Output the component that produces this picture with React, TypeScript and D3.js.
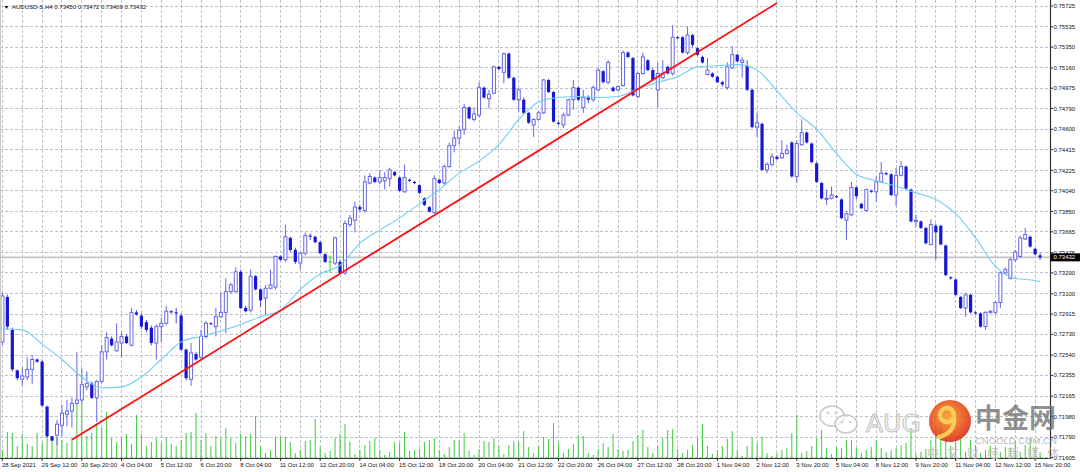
import React from "react";
import * as d3 from "d3";

// ---------- data (AUDUSD-S, H4) ----------
const symbolHeader = "AUDUSD-S,H4  0.73450 0.73472 0.73409 0.73432";

const timeLabels = [
  "28 Sep 2021", "29 Sep 12:00", "30 Sep 20:00", "4 Oct 04:00", "5 Oct 12:00", "6 Oct 20:00",
  "8 Oct 04:00", "11 Oct 12:00", "12 Oct 20:00", "14 Oct 04:00", "15 Oct 12:00", "18 Oct 20:00",
  "20 Oct 04:00", "21 Oct 12:00", "22 Oct 20:00", "26 Oct 04:00", "27 Oct 12:00", "28 Oct 20:00",
  "1 Nov 04:00", "2 Nov 12:00", "3 Nov 20:00", "5 Nov 04:00", "8 Nov 12:00", "9 Nov 20:00",
  "11 Nov 04:00", "12 Nov 12:00", "15 Nov 20:00",
];

const priceTicks = [
  0.75725, 0.75535, 0.7535, 0.7516, 0.74975, 0.7479, 0.746, 0.74415, 0.74225, 0.7404, 0.7385,
  0.73665, 0.73475, 0.7329, 0.731, 0.72915, 0.7273, 0.7254, 0.72355, 0.72165, 0.7198, 0.7179, 0.71605,
];

const open = [
  0.7266, 0.7307, 0.7277, 0.7240, 0.7232, 0.7234, 0.7241, 0.7250, 0.7248, 0.7207,
  0.7180, 0.7181, 0.7190, 0.7200, 0.7203, 0.7210, 0.7213, 0.7225, 0.7228, 0.7215,
  0.7230, 0.7257, 0.7269, 0.7258, 0.7265, 0.7271, 0.7263, 0.7293, 0.7290, 0.7284,
  0.7279, 0.7265, 0.7280, 0.7283, 0.7294, 0.7293, 0.7290, 0.7259, 0.7232, 0.7255,
  0.7252, 0.7271, 0.7283, 0.7280, 0.7289, 0.7293, 0.7312, 0.7312, 0.7330, 0.7297,
  0.7295, 0.7326, 0.7314, 0.7306, 0.7315, 0.7316, 0.7344, 0.7341, 0.7361, 0.7350,
  0.7338, 0.7347, 0.7363, 0.7362, 0.7357, 0.7346, 0.7339, 0.7338, 0.7339, 0.7329,
  0.7373, 0.7377, 0.7389, 0.7386, 0.7411, 0.7416, 0.7412, 0.7413, 0.7415, 0.7421,
  0.7416, 0.7403, 0.7414, 0.7412, 0.7409, 0.7397, 0.7389, 0.7384, 0.7414, 0.7411,
  0.7426, 0.7445, 0.7452, 0.7460, 0.7480, 0.7469, 0.7473, 0.7498, 0.7488, 0.7493,
  0.7517, 0.7512, 0.7529, 0.7507, 0.7487, 0.7487, 0.7475, 0.7464, 0.7469, 0.7475,
  0.7505, 0.7494, 0.7466, 0.7464, 0.7473, 0.7487, 0.7498, 0.7480, 0.7489, 0.7487,
  0.7496, 0.7513, 0.7503, 0.7498, 0.7496, 0.7500, 0.7530, 0.7525, 0.7490, 0.7511,
  0.7523, 0.7514, 0.7496, 0.7507, 0.7517, 0.7511, 0.7544, 0.7544, 0.7530, 0.7546,
  0.7534, 0.7526, 0.7510, 0.7511, 0.7508, 0.7503, 0.7498, 0.7516, 0.7528, 0.7521,
  0.7518, 0.7496, 0.7462, 0.7465, 0.7423, 0.7428, 0.7435, 0.7434, 0.7438, 0.7448,
  0.7417, 0.7446, 0.7457, 0.7447, 0.7429, 0.7411, 0.7396, 0.7397, 0.7399, 0.7396,
  0.7377, 0.7382, 0.7407, 0.7392, 0.7386, 0.7404, 0.7403, 0.7412, 0.7420, 0.7419,
  0.7400, 0.7418, 0.7426, 0.7405, 0.7376, 0.7376, 0.7370, 0.7355, 0.7372, 0.7372,
  0.7354, 0.7325, 0.7323, 0.7307, 0.7297, 0.7309, 0.7293, 0.7292, 0.7280, 0.7293,
  0.7293, 0.7302, 0.7329, 0.7324, 0.7341, 0.7344, 0.7360, 0.7362, 0.7351, 0.7345,
];

const high = [
  0.7311, 0.7309, 0.7279, 0.7241, 0.7243, 0.7252, 0.7254, 0.7251, 0.7250, 0.7208,
  0.7180, 0.7195, 0.7209, 0.7213, 0.7215, 0.7257, 0.7242, 0.7239, 0.7230, 0.7231,
  0.7263, 0.7275, 0.7271, 0.7283, 0.7275, 0.7273, 0.7297, 0.7295, 0.7292, 0.7286,
  0.7281, 0.7282, 0.7288, 0.7299, 0.7295, 0.7297, 0.7292, 0.7260, 0.7265, 0.7257,
  0.7277, 0.7285, 0.7284, 0.7297, 0.7311, 0.7324, 0.7320, 0.7334, 0.7332, 0.7299,
  0.7332, 0.7327, 0.7315, 0.7318, 0.7332, 0.7345, 0.7345, 0.7373, 0.7362, 0.7352,
  0.7348, 0.7366, 0.7365, 0.7363, 0.7358, 0.7347, 0.7345, 0.7362, 0.7341, 0.7377,
  0.7382, 0.7394, 0.7391, 0.7418, 0.7420, 0.7417, 0.7423, 0.7421, 0.7425, 0.7422,
  0.7417, 0.7428, 0.7415, 0.7413, 0.7410, 0.7398, 0.7390, 0.7418, 0.7415, 0.7428,
  0.7448, 0.7459, 0.7463, 0.7483, 0.7481, 0.7480, 0.7503, 0.7499, 0.7496, 0.7518,
  0.7518, 0.7530, 0.7530, 0.7508, 0.7498, 0.7489, 0.7476, 0.7470, 0.7477, 0.7506,
  0.7506, 0.7495, 0.7467, 0.7475, 0.7488, 0.7505, 0.7499, 0.7496, 0.7491, 0.7500,
  0.7516, 0.7514, 0.7523, 0.7499, 0.7500, 0.7532, 0.7531, 0.7526, 0.7512, 0.7530,
  0.7524, 0.7516, 0.7521, 0.7523, 0.7518, 0.7555, 0.7545, 0.7545, 0.7554, 0.7547,
  0.7535, 0.7527, 0.7525, 0.7512, 0.7509, 0.7504, 0.7521, 0.7536, 0.7529, 0.7526,
  0.7523, 0.7497, 0.7475, 0.7466, 0.7430, 0.7438, 0.7436, 0.7450, 0.7446, 0.7449,
  0.7450, 0.7469, 0.7458, 0.7448, 0.7430, 0.7412, 0.7405, 0.7408, 0.7400, 0.7397,
  0.7385, 0.7412, 0.7408, 0.7393, 0.7406, 0.7405, 0.7417, 0.7430, 0.7421, 0.7420,
  0.7425, 0.7431, 0.7427, 0.7406, 0.7382, 0.7377, 0.7371, 0.7378, 0.7374, 0.7373,
  0.7355, 0.7326, 0.7324, 0.7308, 0.7311, 0.7310, 0.7294, 0.7293, 0.7294, 0.7295,
  0.7303, 0.7330, 0.7334, 0.7343, 0.7350, 0.7363, 0.7370, 0.7363, 0.7352, 0.73472,
];

const low = [
  0.7263, 0.7277, 0.7239, 0.7231, 0.7226, 0.7231, 0.7228, 0.7247, 0.7207, 0.7179,
  0.7175, 0.7172, 0.7180, 0.7189, 0.7188, 0.7209, 0.7210, 0.7222, 0.7214, 0.7193,
  0.7228, 0.7250, 0.7262, 0.7257, 0.7252, 0.7264, 0.7262, 0.7290, 0.7278, 0.7275,
  0.7263, 0.7250, 0.7266, 0.7281, 0.7292, 0.7283, 0.7258, 0.7231, 0.7226, 0.7249,
  0.7250, 0.7269, 0.7282, 0.7271, 0.7288, 0.7274, 0.7310, 0.7311, 0.7296, 0.7293,
  0.7293, 0.7313, 0.7298, 0.7291, 0.7314, 0.7314, 0.7340, 0.7339, 0.7348, 0.7337,
  0.7332, 0.7345, 0.7359, 0.7356, 0.7346, 0.7338, 0.7329, 0.7336, 0.7328, 0.7327,
  0.7371, 0.7366, 0.7385, 0.7384, 0.7410, 0.7411, 0.7410, 0.7405, 0.7408, 0.7417,
  0.7403, 0.7402, 0.7412, 0.7410, 0.7401, 0.7390, 0.7384, 0.7383, 0.7410, 0.7409,
  0.7425, 0.7439, 0.7446, 0.7455, 0.7469, 0.7467, 0.7471, 0.7488, 0.7479, 0.7492,
  0.7514, 0.7502, 0.7506, 0.7486, 0.7476, 0.7474, 0.7465, 0.7453, 0.7468, 0.7474,
  0.7493, 0.7466, 0.7464, 0.7461, 0.7472, 0.7478, 0.7486, 0.7475, 0.7484, 0.7485,
  0.7495, 0.7502, 0.7501, 0.7494, 0.7495, 0.7499, 0.7525, 0.7490, 0.7488, 0.7510,
  0.7513, 0.7504, 0.7480, 0.7506, 0.7510, 0.7509, 0.7542, 0.7529, 0.7528, 0.7535,
  0.7527, 0.7520, 0.7509, 0.7507, 0.7502, 0.7499, 0.7496, 0.7515, 0.7521, 0.7507,
  0.7495, 0.7461, 0.7453, 0.7422, 0.7420, 0.7426, 0.7432, 0.7433, 0.7437, 0.7416,
  0.7411, 0.7445, 0.7447, 0.7429, 0.7411, 0.7396, 0.7391, 0.7396, 0.7397, 0.7378,
  0.7359, 0.7381, 0.7396, 0.7387, 0.7385, 0.7402, 0.7394, 0.7411, 0.7418, 0.7399,
  0.7390, 0.7417, 0.7405, 0.7375, 0.7371, 0.7369, 0.7355, 0.7354, 0.7341, 0.7354,
  0.7326, 0.7323, 0.7308, 0.7296, 0.7289, 0.7292, 0.7291, 0.7279, 0.7277, 0.7292,
  0.7291, 0.7297, 0.7328, 0.7323, 0.7339, 0.7343, 0.7359, 0.7352, 0.7345, 0.73409,
];

const close = [
  0.7308, 0.7280, 0.7241, 0.7233, 0.7235, 0.7241, 0.7250, 0.7248, 0.7208, 0.7180,
  0.7176, 0.7191, 0.7201, 0.7203, 0.7210, 0.7213, 0.7227, 0.7228, 0.7215, 0.7230,
  0.7257, 0.7270, 0.7263, 0.7266, 0.7271, 0.7265, 0.7293, 0.7291, 0.7280, 0.7277,
  0.7265, 0.7280, 0.7283, 0.7294, 0.7293, 0.7292, 0.7259, 0.7233, 0.7256, 0.7250,
  0.7271, 0.7283, 0.7282, 0.7289, 0.7293, 0.7312, 0.7318, 0.7330, 0.7297, 0.7294,
  0.7326, 0.7314, 0.7304, 0.7315, 0.7318, 0.7344, 0.7341, 0.7362, 0.7350, 0.7339,
  0.7347, 0.7363, 0.7362, 0.7357, 0.7347, 0.7339, 0.7339, 0.7361, 0.7329, 0.7374,
  0.7379, 0.7389, 0.7387, 0.7412, 0.7417, 0.7412, 0.7416, 0.7416, 0.7423, 0.7418,
  0.7404, 0.7416, 0.7413, 0.7411, 0.7402, 0.7391, 0.7385, 0.7415, 0.7411, 0.7426,
  0.7445, 0.7452, 0.7459, 0.7480, 0.7470, 0.7474, 0.7498, 0.7489, 0.7492, 0.7517,
  0.7515, 0.7529, 0.7507, 0.7487, 0.7496, 0.7475, 0.7466, 0.7469, 0.7475, 0.7505,
  0.7494, 0.7467, 0.7465, 0.7473, 0.7487, 0.7498, 0.7487, 0.7489, 0.7487, 0.7498,
  0.7514, 0.7503, 0.7521, 0.7495, 0.7499, 0.7530, 0.7526, 0.7491, 0.7511, 0.7526,
  0.7514, 0.7505, 0.7511, 0.7511, 0.7511, 0.7544, 0.7543, 0.7530, 0.7546, 0.7537,
  0.7528, 0.7521, 0.7514, 0.7508, 0.7503, 0.7501, 0.7517, 0.7528, 0.7522, 0.7523,
  0.7496, 0.7462, 0.7466, 0.7423, 0.7428, 0.7435, 0.7433, 0.7438, 0.7441, 0.7417,
  0.7447, 0.7457, 0.7448, 0.7430, 0.7412, 0.7397, 0.7397, 0.7400, 0.7398, 0.7379,
  0.7383, 0.7407, 0.7399, 0.7388, 0.7405, 0.7403, 0.7412, 0.7420, 0.7419, 0.7400,
  0.7418, 0.7426, 0.7406, 0.7376, 0.7377, 0.7370, 0.7356, 0.7373, 0.7366, 0.7355,
  0.7327, 0.7324, 0.7309, 0.7297, 0.7309, 0.7293, 0.7292, 0.7280, 0.7293, 0.7294,
  0.7302, 0.7329, 0.7332, 0.7341, 0.7348, 0.7361, 0.7364, 0.7353, 0.7346, 0.73432,
];

// tick volume (hundreds of ticks)
const volume = [
  8, 26, 25, 12, 24, 14, 12, 25, 15, 36, 16, 20, 18, 15, 19, 56, 55, 22, 25, 35,
  30, 46, 20, 16, 20, 24, 14, 43, 24, 12, 16, 20, 15, 20, 14, 12, 18, 25, 26, 45,
  18, 25, 12, 22, 20, 30, 20, 15, 24, 22, 24, 42,
  12, 5, 8, 21, 21, 21, 16, 5, 8, 17, 18, 39, 11, 5, 7, 20, 24, 34, 16, 4,
  8, 13, 17, 20, 8, 3, 6, 16, 15, 26, 7, 8, 9, 16, 18, 20, 8, 4, 11, 18,
  18, 25, 7, 3, 9, 17, 16, 20, 12, 4, 13, 17, 16, 27, 11, 5, 12, 21, 19, 35,
  15, 5, 9, 14, 23, 22, 5, 3, 9, 15, 11, 24, 9, 7, 8, 17, 23, 28, 11, 5,
  12, 20, 28, 29, 9, 5, 8, 13, 20, 34, 12, 4, 8, 12, 19, 27, 8, 2, 12, 21,
  15, 21, 5, 2, 5, 8, 10,
  25, 43, 5, 7, 12, 20, 28, 10, 4, 11, 10, 18, 18, 10, 5, 8, 11, 18, 10, 6,
  8, 10, 13, 15, 30, 5, 6, 9, 18, 23, 38, 20, 12, 16, 22, 6, 18, 13, 5, 8,
  12, 11, 6, 11, 10, 16, 6, 13, 20, 10, 6,
];

// moving average, sampled at bar indices
const maBar = [
  0, 4, 8, 12, 16, 20, 24, 28, 32, 36, 40, 44, 48, 52, 56, 60, 64, 68, 72, 76, 80, 84, 88, 92,
  96, 100, 104, 108, 112, 116, 120, 124, 128, 132, 136, 140, 144, 148, 152, 156, 160, 164, 168,
  172, 176, 180, 184, 188, 192, 196, 200, 204, 208, 209,
];
const maValue = [
  0.7278, 0.7277, 0.7264, 0.7250, 0.7234, 0.7224, 0.7225, 0.7234, 0.7250, 0.7266, 0.7271,
  0.7276, 0.7282, 0.7289, 0.7295, 0.7314, 0.7328, 0.7336, 0.7356, 0.7368, 0.7379, 0.7392,
  0.7405, 0.7420, 0.7431, 0.7446, 0.7469, 0.7485, 0.7489, 0.7490, 0.7489, 0.7490, 0.7497,
  0.7503, 0.7508, 0.7517, 0.7518, 0.7519, 0.7514, 0.7495, 0.7475, 0.7460, 0.7438, 0.7419,
  0.7413, 0.7408, 0.7402, 0.7396, 0.7383, 0.7361, 0.7335, 0.7324, 0.7322, 0.7321,
];

const trendBar = [14, 156];
const trendPrice = [0.71767, 0.75753];
const lastPrice = 0.73432;

// ---------- component ----------
export default function App() {
  const W = 1080;
  const H = 472;
  const plotRight = 1050.5;
  const plotBottom = 458.5;

  const x = d3.scaleLinear().domain([0, 209]).range([2.4, 2.4 + 4.965 * 209]);
  const y = d3.scaleLinear().domain([0.71605, 0.75725]).range([457.6, 6]);
  const vy = d3.scaleLinear().domain([0, 60]).range([458, 398]);
  const snap = (v: number) => Math.round(v - 0.5) + 0.5;

  const gridColor = "#bcc2cc";
  const font = "'Liberation Sans', Arial, sans-serif";

  const gridBars: number[] = [];
  for (let j = 0; j < 212; j += 4) gridBars.push(j);

  const maLine = d3
    .line<number>()
    .x((_, i) => x(maBar[i]))
    .y((v) => y(v))
    .curve(d3.curveMonotoneX)(maValue) as string;

  const bull = "#6767e4";
  const bearFill = "#1717d2";
  const bearWick = "#4a4ade";

  return (
    <div style={{ position: "absolute", left: 0, top: 0, width: W, height: H, background: "#fff" }}>
      <svg width={W} height={H} style={{ display: "block" }}>
        <defs>
          <clipPath id="plot">
            <rect x={0} y={0} width={plotRight} height={plotBottom} />
          </clipPath>
          <radialGradient id="logoGrad" cx="45%" cy="40%" r="60%">
            <stop offset="0%" stopColor="#f7a12a" />
            <stop offset="60%" stopColor="#eb5a1f" />
            <stop offset="100%" stopColor="#d8301c" />
          </radialGradient>
        </defs>
        <rect x={0} y={0} width={W} height={H} fill="#ffffff" />

        <g clipPath="url(#plot)">
          {/* grid */}
          {priceTicks.map((t) => (
            <line key={"h" + t} x1={0} x2={plotRight} y1={snap(y(t))} y2={snap(y(t))}
              stroke={gridColor} strokeWidth={1} strokeDasharray="3 2" />
          ))}
          {gridBars.map((j) => (
            <line key={"v" + j} x1={snap(x(j))} x2={snap(x(j))} y1={0} y2={plotBottom}
              stroke={gridColor} strokeWidth={1} strokeDasharray="3 2" />
          ))}

          {/* current price line */}
          <line x1={0} x2={plotRight} y1={y(lastPrice)} y2={y(lastPrice)} stroke="#c3c3c3" strokeWidth={1.6} />

          {/* volumes */}
          {volume.map((v, j) => (
            <line key={"vol" + j} x1={x(j)} x2={x(j)} y1={vy(0)} y2={vy(v)} stroke="#3fca3f" strokeWidth={1} />
          ))}

          {/* candles */}
          {open.map((o, j) => {
            const c = close[j];
            const cx = x(j);
            const yH = y(high[j]);
            const yL = y(low[j]);
            const yO = y(o);
            const yC = y(c);
            if (o === c) {
              return (
                <g key={"c" + j}>
                  <line x1={cx} x2={cx} y1={yH} y2={yL} stroke="#33cc33" strokeWidth={1} />
                  <line x1={cx - 1.8} x2={cx + 1.8} y1={yO} y2={yO} stroke="#33cc33" strokeWidth={1} />
                </g>
              );
            }
            if (c > o) {
              const h = Math.max(yO - yC, 1);
              return (
                <g key={"c" + j}>
                  <line x1={cx} x2={cx} y1={yH} y2={yL} stroke={bull} strokeWidth={1} />
                  <rect x={cx - 1.5} y={yC} width={3} height={h} fill="#ffffff" stroke={bull} strokeWidth={1} />
                </g>
              );
            }
            const h = Math.max(yC - yO, 1);
            return (
              <g key={"c" + j}>
                <line x1={cx} x2={cx} y1={yH} y2={yL} stroke={bearWick} strokeWidth={1} />
                <rect x={cx - 1.6} y={yO} width={3.2} height={h} fill={bearFill} />
              </g>
            );
          })}

          {/* moving average */}
          <path d={maLine} fill="none" stroke="#72cdf4" strokeWidth={1.1} />

          {/* trend line */}
          <line x1={x(trendBar[0])} y1={y(trendPrice[0])} x2={x(trendBar[1])} y2={y(trendPrice[1])}
            stroke="#ff1010" strokeWidth={1.8} />
        </g>

        {/* axes */}
        <line x1={0.5} x2={0.5} y1={0} y2={plotBottom} stroke="#c8c8c8" strokeWidth={1} />
        <line x1={plotRight} x2={plotRight} y1={0} y2={plotBottom} stroke="#333" strokeWidth={1.2} />
        <line x1={0} x2={plotRight + 0.6} y1={plotBottom} y2={plotBottom} stroke="#333" strokeWidth={1.2} />

        {/* price axis labels */}
        {priceTicks.map((t) => (
          <g key={"pl" + t}>
            <line x1={plotRight} x2={plotRight + 2.5} y1={y(t)} y2={y(t)} stroke="#333" strokeWidth={1} />
            <text x={plotRight + 3} y={y(t)} dy="0.35em" fontFamily={font} fontSize={6} fill="#111">
              {t.toFixed(5)}
            </text>
          </g>
        ))}

        {/* last price marker */}
        <rect x={plotRight} y={y(lastPrice) - 4} width={W - plotRight} height={8} fill="#000" />
        <text x={plotRight + 3} y={y(lastPrice)} dy="0.35em" fontFamily={font} fontSize={6} fill="#fff">
          {lastPrice.toFixed(5)}
        </text>

        {/* time axis labels */}
        {timeLabels.map((lab, i) => {
          const j = i * 8;
          return (
            <g key={"tl" + i}>
              <line x1={x(j)} x2={x(j)} y1={plotBottom} y2={plotBottom + 2.5} stroke="#333" strokeWidth={1} />
              <text x={x(j) - 0.5} y={467} fontFamily={font} fontSize={6} fill="#111">
                {lab}
              </text>
            </g>
          );
        })}

        {/* header */}
        <path d="M4.5,6 L8.5,6 L6.5,8.8 Z" fill="#000" />
        <text x={12} y={9.2} fontFamily={font} fontSize={6} fill="#111">
          {symbolHeader}
        </text>

        {/* watermark */}
        <g opacity={0.9}>
          <g fill="#ffffff" fillOpacity={0.6} stroke="#c4c4c4" strokeWidth={1.6}>
            <ellipse cx={832} cy={416} rx={12} ry={10} />
            <ellipse cx={846} cy={424} rx={11} ry={9} />
          </g>
          <g fill="#c4c4c4">
            <circle cx={828} cy={413} r={1.3} />
            <circle cx={836} cy={413} r={1.3} />
            <circle cx={842} cy={422} r={1.1} />
            <circle cx={850} cy={422} r={1.1} />
          </g>
          <text x={866} y={432} fontFamily="'DejaVu Sans', sans-serif" fontSize={25}
            fill="#ffffff" fillOpacity={0.7} stroke="#bdbdbd" strokeWidth={1.1}>
            AUG
          </text>
          <circle cx={950} cy={421} r={21} fill="url(#logoGrad)" />
          <circle cx={947} cy={415} r={7} fill="none" stroke="#f8c745" strokeWidth={4.5} />
          <path d="M954,417 C955,428 950,434 939,437" fill="none" stroke="#f8c745" strokeWidth={4.5} strokeLinecap="round" />
          <text x={975} y={428} fontFamily="'Noto Sans CJK SC', sans-serif" fontWeight={700} fontSize={27}
            fill="#6f6f6f" fillOpacity={0.85}>
            中金网
          </text>
          <text x={975} y={444} fontFamily={font} fontSize={9.5} fill="#b3b3b3">
            CNGOLD.COM.CN
          </text>
          {["中", "文", "财", "经", "新", "媒", "体"].map((ch, i) => (
            <text key={"wm" + i} x={927 + i * 20} y={458} fontFamily="'Noto Sans CJK SC', sans-serif"
              fontSize={12} fill="#bdbdbd">
              {ch}
            </text>
          ))}
        </g>
      </svg>
    </div>
  );
}
